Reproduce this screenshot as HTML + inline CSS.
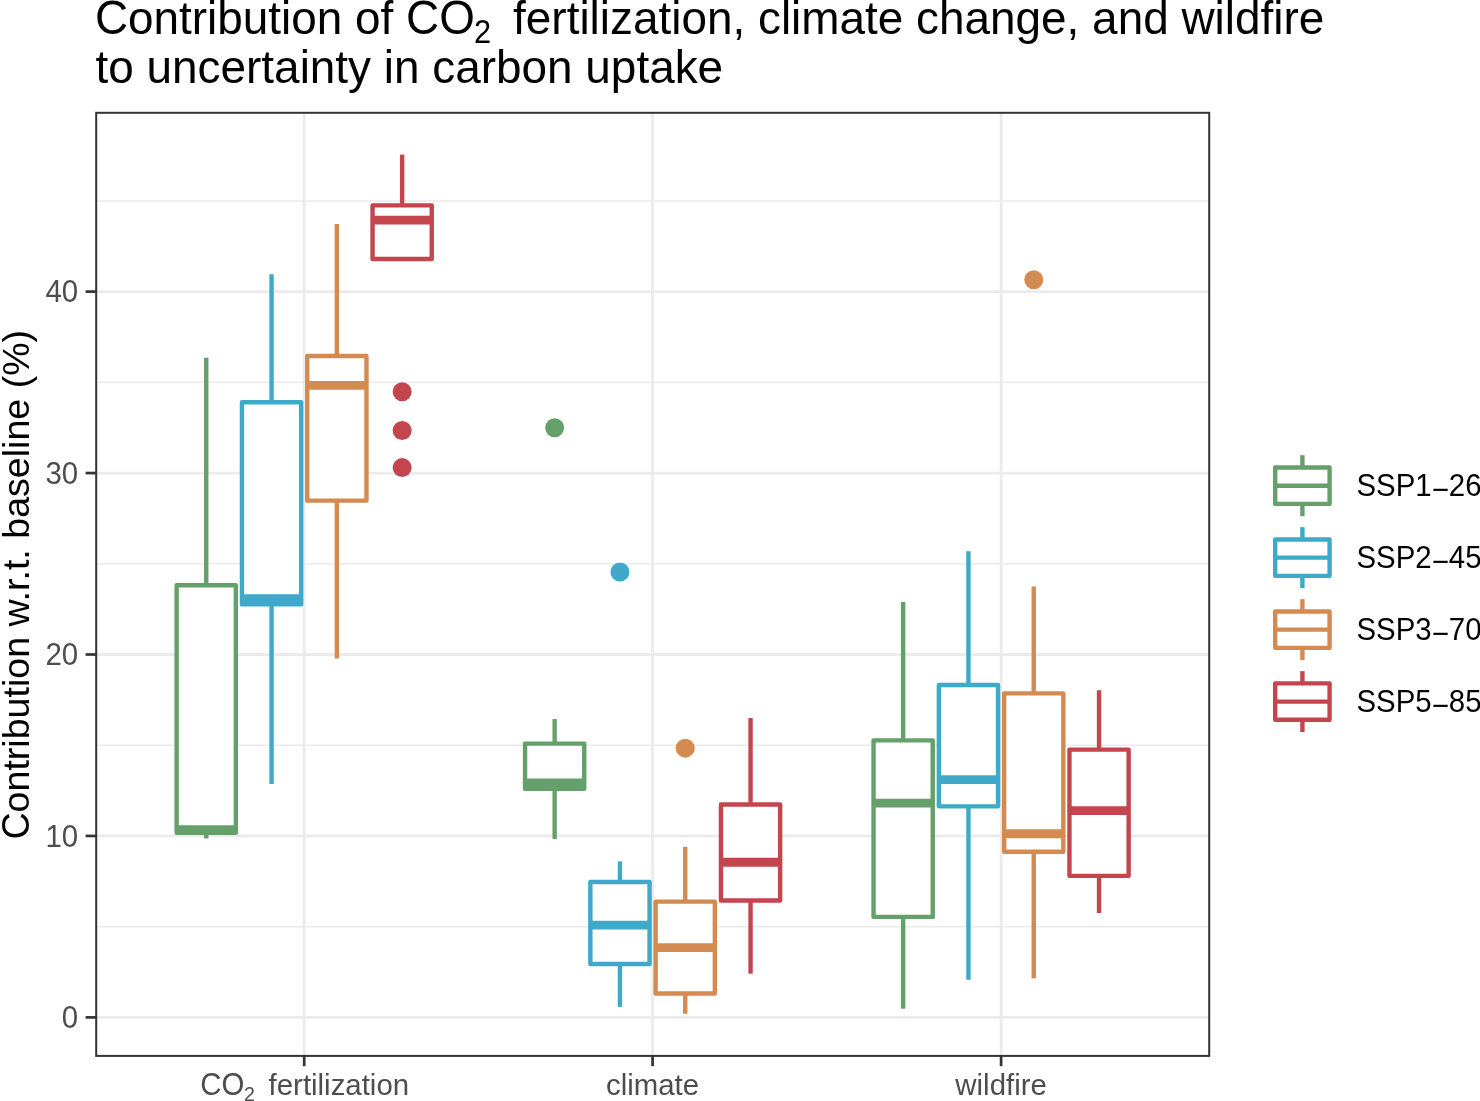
<!DOCTYPE html>
<html><head><meta charset="utf-8"><style>
html,body{margin:0;padding:0;background:#fff;}
svg{display:block;will-change:transform;}
text{font-family:"Liberation Sans",sans-serif;}
.ax{font-size:29.4px;fill:#4d4d4d;}
.sub{font-size:19.6px;}
.yt{font-size:37.6px;fill:#000;}
.tt{font-size:45.9px;fill:#000;}
.tsub{font-size:30.8px;}
.lg{font-size:29.4px;fill:#000;}
</style></head><body>
<svg width="1480" height="1101" viewBox="0 0 1480 1101">
<rect width="1480" height="1101" fill="#fff"/>
<line x1="96.2" x2="1209.2" y1="926.67" y2="926.67" stroke="#ebebeb" stroke-width="1.5"/>
<line x1="96.2" x2="1209.2" y1="745.22" y2="745.22" stroke="#ebebeb" stroke-width="1.5"/>
<line x1="96.2" x2="1209.2" y1="563.77" y2="563.77" stroke="#ebebeb" stroke-width="1.5"/>
<line x1="96.2" x2="1209.2" y1="382.33" y2="382.33" stroke="#ebebeb" stroke-width="1.5"/>
<line x1="96.2" x2="1209.2" y1="200.88" y2="200.88" stroke="#ebebeb" stroke-width="1.5"/>
<line x1="96.2" x2="1209.2" y1="1017.4" y2="1017.4" stroke="#ebebeb" stroke-width="2.8"/>
<line x1="96.2" x2="1209.2" y1="835.95" y2="835.95" stroke="#ebebeb" stroke-width="2.8"/>
<line x1="96.2" x2="1209.2" y1="654.5" y2="654.5" stroke="#ebebeb" stroke-width="2.8"/>
<line x1="96.2" x2="1209.2" y1="473.05" y2="473.05" stroke="#ebebeb" stroke-width="2.8"/>
<line x1="96.2" x2="1209.2" y1="291.6" y2="291.6" stroke="#ebebeb" stroke-width="2.8"/>
<line x1="304.2" x2="304.2" y1="112.8" y2="1055.9" stroke="#ebebeb" stroke-width="2.8"/>
<line x1="652.6" x2="652.6" y1="112.8" y2="1055.9" stroke="#ebebeb" stroke-width="2.8"/>
<line x1="1001.1" x2="1001.1" y1="112.8" y2="1055.9" stroke="#ebebeb" stroke-width="2.8"/>
<g stroke="#65a06b" stroke-width="4.4" stroke-linejoin="round"><line x1="206.25" x2="206.25" y1="357.65" y2="585.19"/><line x1="206.25" x2="206.25" y1="832.68" y2="838.49"/><rect x="176.65" y="585.19" width="59.2" height="247.5" fill="#fff"/><line x1="176.65" x2="235.85" y1="829.6" y2="829.6" stroke-width="8.8" stroke-linecap="butt"/></g>
<g stroke="#3ea9c8" stroke-width="4.4" stroke-linejoin="round"><line x1="271.55" x2="271.55" y1="274.36" y2="402.28"/><line x1="271.55" x2="271.55" y1="604.42" y2="784.06"/><rect x="241.95" y="402.28" width="59.2" height="202.14" fill="#fff"/><line x1="241.95" x2="301.15" y1="598.61" y2="598.61" stroke-width="8.8" stroke-linecap="butt"/></g>
<g stroke="#d38b52" stroke-width="4.4" stroke-linejoin="round"><line x1="336.85" x2="336.85" y1="223.92" y2="356.01"/><line x1="336.85" x2="336.85" y1="500.63" y2="658.49"/><rect x="307.25" y="356.01" width="59.2" height="144.62" fill="#fff"/><line x1="307.25" x2="366.45" y1="385.41" y2="385.41" stroke-width="8.8" stroke-linecap="butt"/></g>
<g stroke="#c3464e" stroke-width="4.4" stroke-linejoin="round"><line x1="402.15" x2="402.15" y1="154.61" y2="205.41"/><rect x="372.55" y="205.41" width="59.2" height="53.53" fill="#fff"/><line x1="372.55" x2="431.75" y1="220.11" y2="220.11" stroke-width="8.8" stroke-linecap="butt"/></g>
<circle cx="402.15" cy="391.76" r="9.5" fill="#c3464e"/>
<circle cx="402.15" cy="430.41" r="9.5" fill="#c3464e"/>
<circle cx="402.15" cy="467.61" r="9.5" fill="#c3464e"/>
<g stroke="#65a06b" stroke-width="4.4" stroke-linejoin="round"><line x1="554.65" x2="554.65" y1="719.1" y2="743.59"/><line x1="554.65" x2="554.65" y1="788.77" y2="839.03"/><rect x="525.05" y="743.59" width="59.2" height="45.18" fill="#fff"/><line x1="525.05" x2="584.25" y1="782.97" y2="782.97" stroke-width="8.8" stroke-linecap="butt"/></g>
<circle cx="554.65" cy="427.69" r="9.5" fill="#65a06b"/>
<g stroke="#3ea9c8" stroke-width="4.4" stroke-linejoin="round"><line x1="619.95" x2="619.95" y1="861.35" y2="882.04"/><line x1="619.95" x2="619.95" y1="964.05" y2="1006.88"/><rect x="590.35" y="882.04" width="59.2" height="82.02" fill="#fff"/><line x1="590.35" x2="649.55" y1="925.04" y2="925.04" stroke-width="8.8" stroke-linecap="butt"/></g>
<circle cx="619.95" cy="571.94" r="9.5" fill="#3ea9c8"/>
<g stroke="#d38b52" stroke-width="4.4" stroke-linejoin="round"><line x1="685.25" x2="685.25" y1="846.84" y2="901.63"/><line x1="685.25" x2="685.25" y1="993.45" y2="1013.77"/><rect x="655.65" y="901.63" width="59.2" height="91.81" fill="#fff"/><line x1="655.65" x2="714.85" y1="947.54" y2="947.54" stroke-width="8.8" stroke-linecap="butt"/></g>
<circle cx="685.25" cy="748.13" r="9.5" fill="#d38b52"/>
<g stroke="#c3464e" stroke-width="4.4" stroke-linejoin="round"><line x1="750.55" x2="750.55" y1="718.01" y2="804.56"/><line x1="750.55" x2="750.55" y1="900.55" y2="973.67"/><rect x="720.95" y="804.56" width="59.2" height="95.99" fill="#fff"/><line x1="720.95" x2="780.15" y1="862.26" y2="862.26" stroke-width="8.8" stroke-linecap="butt"/></g>
<g stroke="#65a06b" stroke-width="4.4" stroke-linejoin="round"><line x1="903.15" x2="903.15" y1="602.06" y2="740.33"/><line x1="903.15" x2="903.15" y1="916.88" y2="1008.69"/><rect x="873.55" y="740.33" width="59.2" height="176.55" fill="#fff"/><line x1="873.55" x2="932.75" y1="803.11" y2="803.11" stroke-width="8.8" stroke-linecap="butt"/></g>
<g stroke="#3ea9c8" stroke-width="4.4" stroke-linejoin="round"><line x1="968.45" x2="968.45" y1="551.25" y2="684.98"/><line x1="968.45" x2="968.45" y1="806.37" y2="979.84"/><rect x="938.85" y="684.98" width="59.2" height="121.39" fill="#fff"/><line x1="938.85" x2="998.05" y1="779.7" y2="779.7" stroke-width="8.8" stroke-linecap="butt"/></g>
<g stroke="#d38b52" stroke-width="4.4" stroke-linejoin="round"><line x1="1033.75" x2="1033.75" y1="586.46" y2="693.33"/><line x1="1033.75" x2="1033.75" y1="851.74" y2="978.39"/><rect x="1004.15" y="693.33" width="59.2" height="158.41" fill="#fff"/><line x1="1004.15" x2="1063.35" y1="833.77" y2="833.77" stroke-width="8.8" stroke-linecap="butt"/></g>
<circle cx="1033.75" cy="279.81" r="9.5" fill="#d38b52"/>
<g stroke="#c3464e" stroke-width="4.4" stroke-linejoin="round"><line x1="1099.05" x2="1099.05" y1="690.25" y2="749.58"/><line x1="1099.05" x2="1099.05" y1="875.87" y2="913.07"/><rect x="1069.45" y="749.58" width="59.2" height="126.29" fill="#fff"/><line x1="1069.45" x2="1128.65" y1="810.55" y2="810.55" stroke-width="8.8" stroke-linecap="butt"/></g>
<rect x="96.2" y="112.8" width="1113" height="943.1" fill="none" stroke="#333" stroke-width="2"/>
<line x1="85.6" x2="96.2" y1="1017.4" y2="1017.4" stroke="#333" stroke-width="2.7"/>
<line x1="85.6" x2="96.2" y1="835.95" y2="835.95" stroke="#333" stroke-width="2.7"/>
<line x1="85.6" x2="96.2" y1="654.5" y2="654.5" stroke="#333" stroke-width="2.7"/>
<line x1="85.6" x2="96.2" y1="473.05" y2="473.05" stroke="#333" stroke-width="2.7"/>
<line x1="85.6" x2="96.2" y1="291.6" y2="291.6" stroke="#333" stroke-width="2.7"/>
<line x1="304.2" x2="304.2" y1="1055.9" y2="1066.2" stroke="#333" stroke-width="2.7"/>
<line x1="652.6" x2="652.6" y1="1055.9" y2="1066.2" stroke="#333" stroke-width="2.7"/>
<line x1="1001.1" x2="1001.1" y1="1055.9" y2="1066.2" stroke="#333" stroke-width="2.7"/>
<text transform="translate(78.1,1027.95) scale(1,1.05)" text-anchor="end" class="ax">0</text>
<text transform="translate(78.1,846.5) scale(1,1.05)" text-anchor="end" class="ax">10</text>
<text transform="translate(78.1,665.05) scale(1,1.05)" text-anchor="end" class="ax">20</text>
<text transform="translate(78.1,483.6) scale(1,1.05)" text-anchor="end" class="ax">30</text>
<text transform="translate(78.1,302.15) scale(1,1.05)" text-anchor="end" class="ax">40</text>
<text transform="translate(200.3,1094.7) scale(1,1.05)" class="ax">CO</text><text transform="translate(244.1,1100.9) scale(1,1.05)" class="ax sub">2</text><text x="268.6" y="1094.7" class="ax">fertilization</text>
<text x="652.6" y="1094.7" text-anchor="middle" class="ax">climate</text>
<text x="1001.1" y="1094.7" text-anchor="middle" class="ax">wildfire</text>
<g transform="translate(29.1,584.7) rotate(-90)"><text transform="translate(-254.82,0) scale(1,1.05)" class="yt">C</text><text x="-227.7" y="0" class="yt">ontribution w.r.t. baseline (%)</text></g>
<text transform="translate(94.9,34.3) scale(1,1.05)" class="tt">C</text>
<text x="128.04" y="34.3" class="tt">ontribution of</text>
<text transform="translate(406.1,34.3) scale(1,1.05)" class="tt">CO</text>
<text transform="translate(473.9,43.2) scale(1,1.05)" class="tt tsub">2</text>
<text x="513.1" y="34.3" class="tt">fertilization, climate change, and wildfire</text>
<text x="95.55" y="82.9" class="tt">to uncertainty in carbon uptake</text>
<g stroke="#65a06b" stroke-width="4.4" stroke-linejoin="round"><line x1="1302.4" x2="1302.4" y1="455.2" y2="467.5"/><line x1="1302.4" x2="1302.4" y1="503.9" y2="516.2"/><rect x="1275.2" y="467.5" width="54.4" height="36.4" fill="#fff"/><line x1="1275.2" x2="1329.6" y1="485.7" y2="485.7"/></g>
<text transform="translate(1356.5,496.25) scale(1,1.05)" class="lg">SSP1<tspan dy="3.2">−</tspan><tspan dy="-3.2">26</tspan></text>
<g stroke="#3ea9c8" stroke-width="4.4" stroke-linejoin="round"><line x1="1302.4" x2="1302.4" y1="527.17" y2="539.47"/><line x1="1302.4" x2="1302.4" y1="575.87" y2="588.17"/><rect x="1275.2" y="539.47" width="54.4" height="36.4" fill="#fff"/><line x1="1275.2" x2="1329.6" y1="557.67" y2="557.67"/></g>
<text transform="translate(1356.5,568.22) scale(1,1.05)" class="lg">SSP2<tspan dy="3.2">−</tspan><tspan dy="-3.2">45</tspan></text>
<g stroke="#d38b52" stroke-width="4.4" stroke-linejoin="round"><line x1="1302.4" x2="1302.4" y1="599.14" y2="611.44"/><line x1="1302.4" x2="1302.4" y1="647.84" y2="660.14"/><rect x="1275.2" y="611.44" width="54.4" height="36.4" fill="#fff"/><line x1="1275.2" x2="1329.6" y1="629.64" y2="629.64"/></g>
<text transform="translate(1356.5,640.19) scale(1,1.05)" class="lg">SSP3<tspan dy="3.2">−</tspan><tspan dy="-3.2">70</tspan></text>
<g stroke="#c3464e" stroke-width="4.4" stroke-linejoin="round"><line x1="1302.4" x2="1302.4" y1="671.11" y2="683.41"/><line x1="1302.4" x2="1302.4" y1="719.81" y2="732.11"/><rect x="1275.2" y="683.41" width="54.4" height="36.4" fill="#fff"/><line x1="1275.2" x2="1329.6" y1="701.61" y2="701.61"/></g>
<text transform="translate(1356.5,712.16) scale(1,1.05)" class="lg">SSP5<tspan dy="3.2">−</tspan><tspan dy="-3.2">85</tspan></text>
</svg>
</body></html>
